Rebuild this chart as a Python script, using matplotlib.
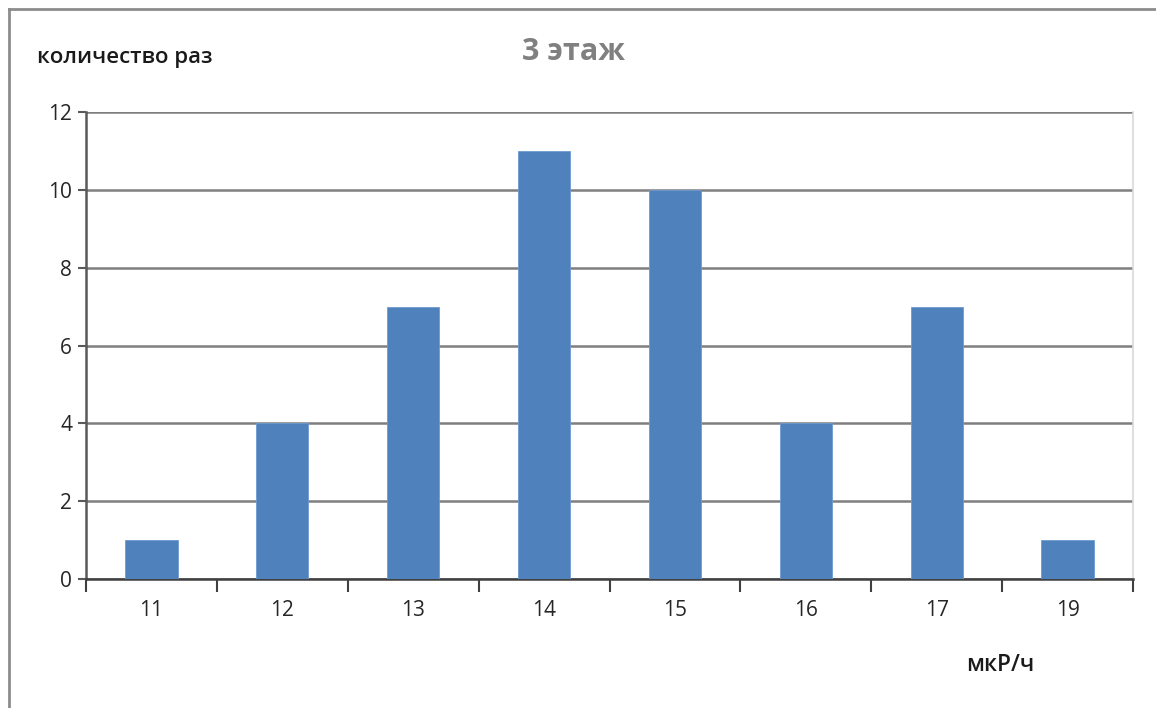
import matplotlib
matplotlib.use("Agg")
import matplotlib.pyplot as plt
from matplotlib.lines import Line2D
import numpy as np

# Dose-rate readings on the 3rd floor
categories = ["11", "12", "13", "14", "15", "16", "17", "19"]
counts = [1, 4, 7, 11, 10, 4, 7, 1]
y_ticks = [0, 2, 4, 6, 8, 10, 12]

plt.rcParams["font.family"] = ["Open Sans", "DejaVu Sans"]

W, H = 1156, 708
fig = plt.figure(figsize=(W / 100, H / 100), dpi=100)
fig.patch.set_facecolor("white")

ax = fig.add_axes([86 / W, 1 - 579 / H, (1133 - 86) / W, (579 - 112) / H])

x = np.arange(len(categories))
ax.bar(x, counts, width=0.4, color="#4f81bd", edgecolor="#6f9ad0", linewidth=0.6, zorder=3)

ax.set_xlim(-0.5, len(categories) - 0.5)
ax.set_ylim(0, 12)
ax.set_yticks(y_ticks)
ax.set_yticklabels([str(v) for v in y_ticks])
ax.set_xticks(x)
ax.set_xticklabels(categories)
ax.set_xticks(np.arange(-0.5, len(categories)), minor=True)

ax.yaxis.grid(True, color="#7f7f7f", linewidth=1.8, zorder=0)
ax.set_axisbelow(True)

ax.spines["top"].set_visible(False)
ax.spines["right"].set_color("#d9d9d9")
ax.spines["right"].set_linewidth(1.2)
ax.spines["left"].set_color("#595959")
ax.spines["left"].set_linewidth(1.8)
ax.spines["bottom"].set_color("#404040")
ax.spines["bottom"].set_linewidth(1.8)

ax.tick_params(axis="y", which="major", length=6, width=1.5, color="#595959",
               labelsize=15, labelcolor="#262626", pad=4)
ax.tick_params(axis="x", which="major", length=0, labelsize=15,
               labelcolor="#262626", pad=15)
ax.tick_params(axis="x", which="minor", length=9, width=1.5, color="#404040")

fig.text(573 / W, 1 - 52 / H, "3 этаж", ha="center", va="center",
         fontsize=22, fontweight="bold", color="#808080")
fig.text(37 / W, 1 - 58 / H, "количество раз", ha="left", va="center",
         fontsize=16, fontweight="semibold", color="#1a1a1a")
fig.text(1000 / W, 1 - 665 / H, "мкР/ч", ha="center", va="center",
         fontsize=16.5, fontweight="semibold", color="#1a1a1a")

# outer frame: left and top edges only
fig.add_artist(Line2D([9 / W, 9 / W], [0, 1 - 9 / H], transform=fig.transFigure,
                      color="#8c8c8c", linewidth=2))
fig.add_artist(Line2D([9 / W, 1], [1 - 9 / H, 1 - 9 / H], transform=fig.transFigure,
                      color="#8c8c8c", linewidth=2))

fig.savefig("out.png", dpi=100, facecolor="white")
